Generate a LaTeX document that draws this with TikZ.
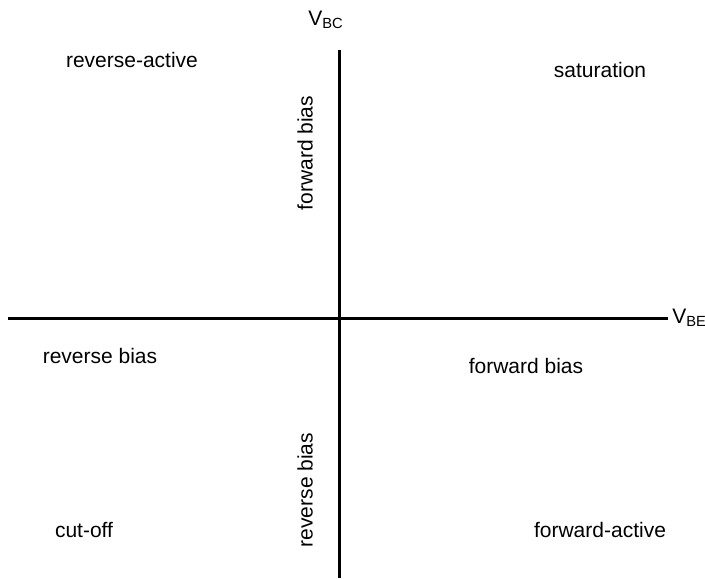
\documentclass[tikz,border=0pt]{standalone}
\usepackage{fontspec}
\setmainfont{Liberation Sans}
\usepackage{tikz}
\usetikzlibrary{positioning}

\begin{document}
\begin{tikzpicture}[x=0.5pt, y=-0.5pt, every node/.style={font=\fontsize{10.5}{12}\selectfont},
  axis/.style={line width=1.5pt},
  region/.style={inner sep=0pt},
  biaslabel/.style={inner sep=0pt, rotate=90}]
\useasboundingbox (0,0) rectangle (705,578);
% axes
\coordinate (xl) at (8,318);
\coordinate (xr) at (668,318);
\coordinate (yt) at (339,50);
\coordinate (yb) at (339,578);
\draw[axis] (xl) -- (xr);
\draw[axis] (yt) -- (yb);
\node[anchor=west, inner sep=2pt] (vbe) at (xr) {V\textsubscript{BE}};
\node[inner sep=0pt] (vbc) at (326,20) {V\textsubscript{BC}};
% regions
\node[region] (ra) at (132,60) {reverse-active};
\node[region] (sat) at (600,70) {saturation};
\node[region] (co) at (84,530) {cut-off};
\node[region] (fa) at (600,530) {forward-active};
% bias labels
\node[region] (rbh) at (100,356) {reverse bias};
\node[region] (fbh) at (526,366) {forward bias};
\node[biaslabel] (fbv) at (305,153) {forward bias};
\node[biaslabel] (rbv) at (305,490) {reverse bias};
\end{tikzpicture}
\end{document}
